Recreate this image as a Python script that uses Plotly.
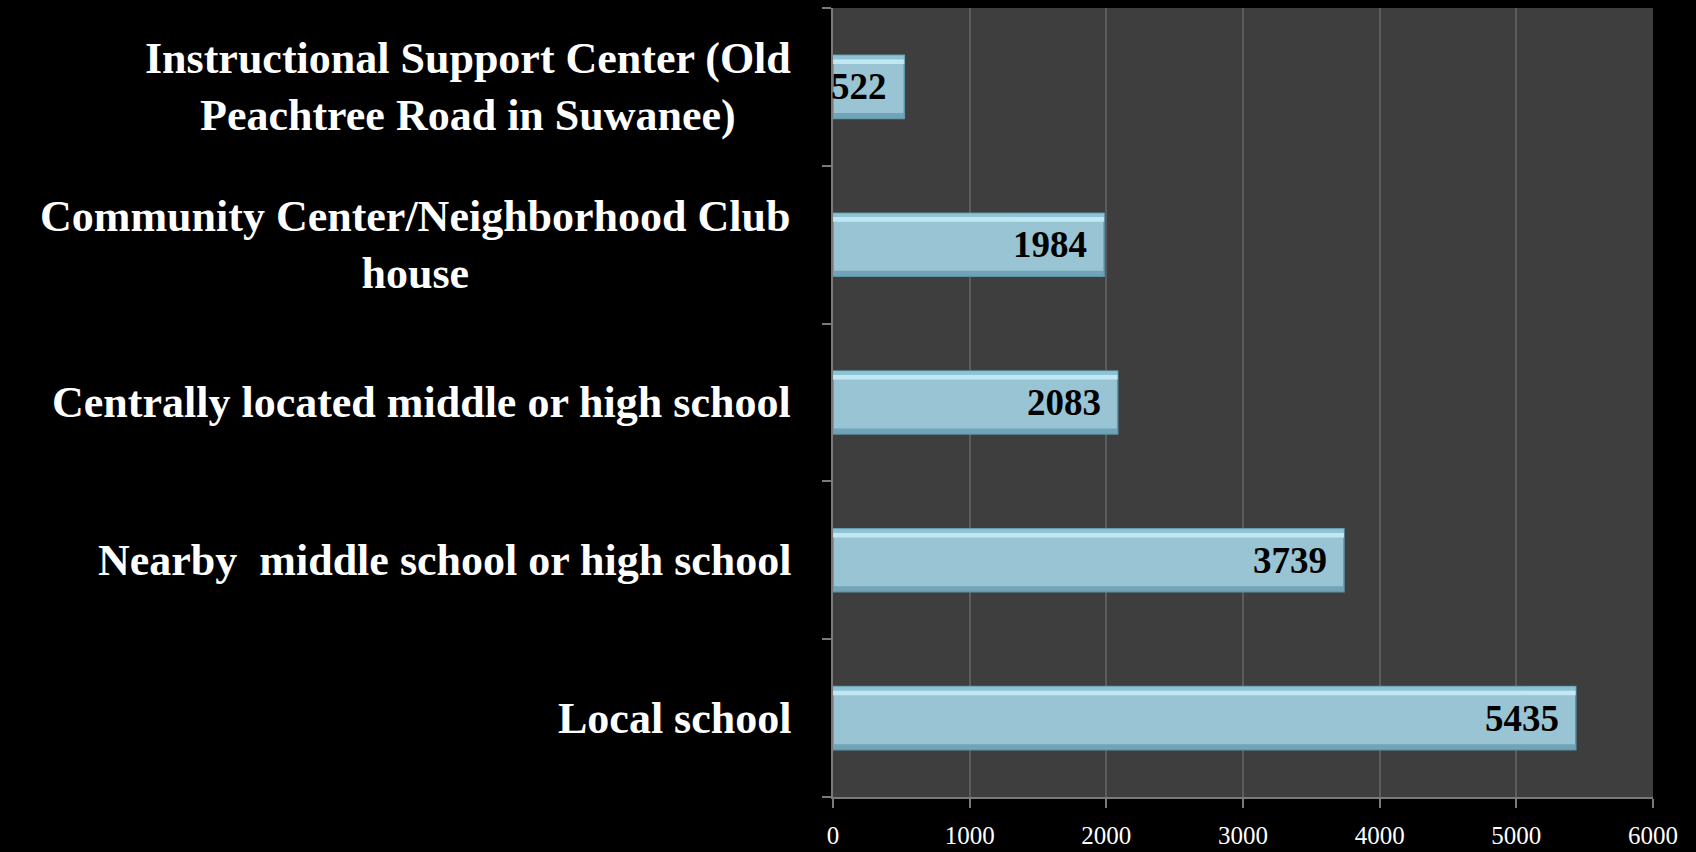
import plotly.graph_objects as go

categories = [
    "Local school",
    "Nearby  middle school or high school",
    "Centrally located middle or high school",
    "Community Center/Neighborhood Club<br>house",
    "Instructional Support Center (Old<br>Peachtree Road in Suwanee)",
]
values = [5435, 3739, 2083, 1984, 522]
x_ticks = [0, 1000, 2000, 3000, 4000, 5000, 6000]

SERIF = "Liberation Serif, Times New Roman, serif"

fig = go.Figure()

# main bar body
fig.add_trace(go.Bar(
    y=categories, x=values, orientation="h",
    width=0.4,
    marker=dict(color="#98c4d3", line=dict(color="#5d95a8", width=1.5)),
    hoverinfo="x+y",
))
# top highlight stripe (bevel)
fig.add_trace(go.Bar(
    y=categories, x=values, orientation="h",
    width=0.03, offset=0.145,
    marker=dict(color="#c8eef8", line=dict(width=0)), opacity=0.85,
    hoverinfo="skip",
))
# upper bevel band
fig.add_trace(go.Bar(
    y=categories, x=values, orientation="h",
    width=0.025, offset=0.175,
    marker=dict(color="#8cc3d4", line=dict(width=0)), opacity=0.9,
    hoverinfo="skip",
))
# bottom shade stripe (bevel)
fig.add_trace(go.Bar(
    y=categories, x=values, orientation="h",
    width=0.035, offset=-0.2,
    marker=dict(color="#6a9fb1", line=dict(width=0)), opacity=0.85,
    hoverinfo="skip",
))

annotations = []
for c, v in zip(categories, values):
    annotations.append(dict(
        x=v, y=c, xref="x", yref="y", text=f"<b>{v}</b>",
        xanchor="right", yanchor="middle", xshift=-15, showarrow=False,
        font=dict(family=SERIF, size=37, color="#000000"),
    ))
    annotations.append(dict(
        x=0, y=c, xref="paper", yref="y", text=f"<b>{c}</b>",
        xanchor="right", yanchor="middle", xshift=-40, showarrow=False,
        align="center",
        font=dict(family=SERIF, size=44, color="#ffffff"),
    ))

fig.update_layout(
    width=1696, height=852,
    paper_bgcolor="#000000",
    plot_bgcolor="#3e3e3e",
    barmode="overlay",
    showlegend=False,
    margin=dict(l=833, r=43, t=8, b=55),
    annotations=annotations,
    xaxis=dict(
        range=[0, 6000], tickvals=x_ticks,
        showgrid=True, gridcolor="#5c5c5c", gridwidth=2,
        showline=True, linecolor="#7a7a7a", linewidth=1.5,
        ticks="outside", ticklen=9, tickcolor="#7a7a7a", tickwidth=1.5,
        ticklabelstandoff=6, automargin=False,
        tickfont=dict(family=SERIF, size=25, color="#ffffff"),
        zeroline=False, mirror=False,
    ),
    yaxis=dict(
        categoryorder="array", categoryarray=categories,
        showticklabels=False, automargin=False,
        showline=True, linecolor="#7a7a7a", linewidth=1.5,
        ticks="outside", ticklen=9, tickcolor="#7a7a7a", tickwidth=1.5,
        tickson="boundaries", showgrid=False,
    ),
)

fig.write_html(
    "out.html",
    config={"displayModeBar": False},
    post_script="document.body.style.margin='0';document.body.style.background='#000';",
)
